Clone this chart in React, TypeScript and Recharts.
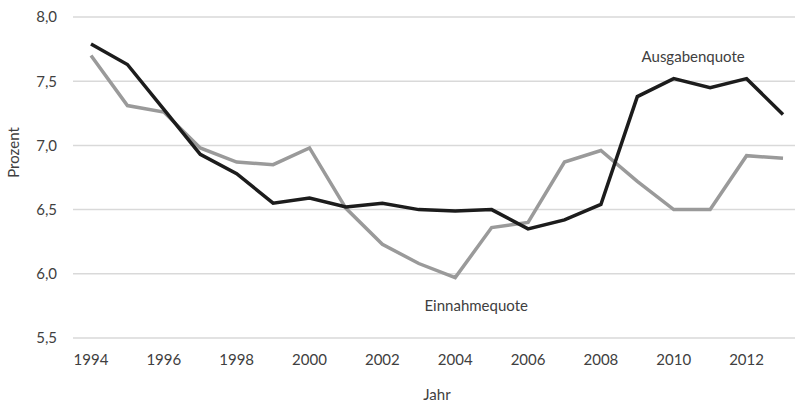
import { LineChart, Line, XAxis, YAxis, CartesianGrid, ReferenceDot, Label } from "recharts";

const years = [1994, 1995, 1996, 1997, 1998, 1999, 2000, 2001, 2002, 2003, 2004, 2005, 2006, 2007, 2008, 2009, 2010, 2011, 2012, 2013];
const ausgabenquote = [7.79, 7.63, 7.28, 6.93, 6.78, 6.55, 6.59, 6.52, 6.55, 6.5, 6.49, 6.5, 6.35, 6.42, 6.54, 7.38, 7.52, 7.45, 7.52, 7.24];
const einnahmequote = [7.7, 7.31, 7.26, 6.98, 6.87, 6.85, 6.98, 6.51, 6.23, 6.08, 5.97, 6.36, 6.4, 6.87, 6.96, 6.72, 6.5, 6.5, 6.92, 6.9];
const yTicks = [5.5, 6.0, 6.5, 7.0, 7.5, 8.0];

const chartData = years.map((year, i) => ({
  year,
  ausgaben: ausgabenquote[i],
  einnahmen: einnahmequote[i],
}));

const font = "Lato, 'Open Sans', sans-serif";
const textColor = "#404040";
const fs = 15;

const fmt = (v: number) => v.toFixed(1).replace(".", ",");

export default function App() {
  return (
    <div style={{ width: 795, height: 403, overflow: "hidden", background: "#fff" }}>
      <style>{`body{margin:0;overflow:hidden}`}</style>
      <LineChart
        width={806}
        height={403}
        data={chartData}
        margin={{ top: 17, right: 5, bottom: 35, left: 0 }}
        style={{ fontFamily: font }}
      >
        <CartesianGrid vertical={false} stroke="#d9d9d9" strokeWidth={1.5} />
        <XAxis
          dataKey="year"
          type="category"
          interval={1}
          padding={{ left: 18, right: 18 }}
          axisLine={false}
          tickLine={false}
          tickMargin={10}
          height={30}
          tick={{ fill: textColor, fontSize: fs, fontFamily: font }}
        >
          <Label value="Jahr" position="bottom" offset={21} fill={textColor} fontSize={fs} fontFamily={font} />
        </XAxis>
        <YAxis
          domain={[5.5, 8]}
          ticks={yTicks}
          tickFormatter={fmt}
          axisLine={false}
          tickLine={false}
          tickMargin={10}
          width={73}
          tick={{ fill: textColor, fontSize: fs, fontFamily: font }}
        >
          <Label
            content={({ viewBox }: any) => (
              <text
                x={13}
                y={viewBox.y + viewBox.height / 2 - 25}
                transform={`rotate(-90, 13, ${viewBox.y + viewBox.height / 2 - 25})`}
                textAnchor="middle"
                dominantBaseline="central"
                fill={textColor}
                fontSize={fs}
                fontFamily={font}
              >
                Prozent
              </text>
            )}
          />
        </YAxis>
        <Line
          type="linear"
          dataKey="einnahmen"
          stroke="#9a9a9a"
          strokeWidth={3.5}
          dot={false}
          isAnimationActive={false}
        />
        <Line
          type="linear"
          dataKey="ausgaben"
          stroke="#1c1c1c"
          strokeWidth={3.5}
          dot={false}
          isAnimationActive={false}
        />
        <ReferenceDot
          x={2011}
          y={7.69}
          r={0}
          fill="none"
          stroke="none"
          label={{ value: "Ausgabenquote", position: "center", dx: -17, fill: textColor, fontSize: fs, fontFamily: font }}
        />
        <ReferenceDot
          x={2004}
          y={5.75}
          r={0}
          fill="none"
          stroke="none"
          label={{ value: "Einnahmequote", position: "center", dx: 21, fill: textColor, fontSize: fs, fontFamily: font }}
        />
      </LineChart>
    </div>
  );
}
